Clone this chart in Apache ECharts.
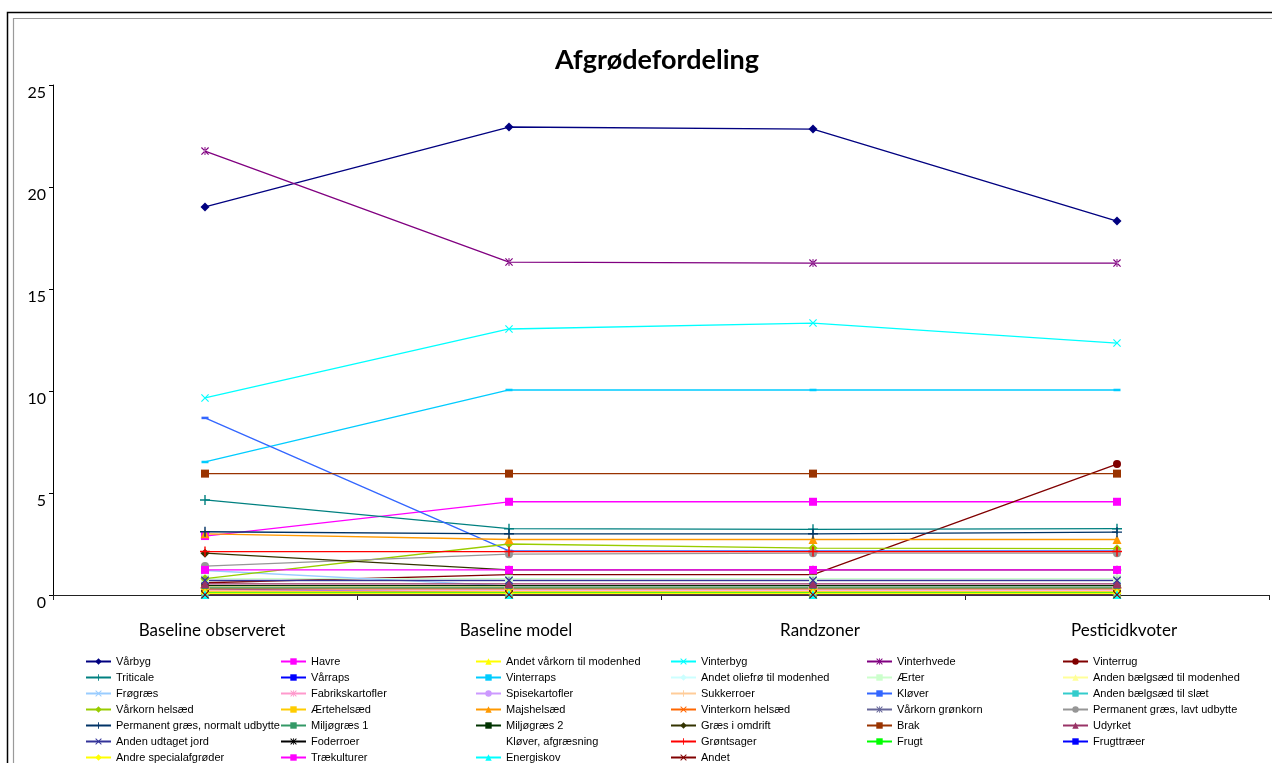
<!DOCTYPE html>
<html>
<head>
<meta charset="utf-8">
<title>Afgrødefordeling</title>
<script src="https://cdn.jsdelivr.net/npm/echarts@6/dist/echarts.min.js"></script>
<style>
  html, body { margin: 0; padding: 0; background: #fff; }
  #chart { width: 1272px; height: 763px; }
</style>
</head>
<body>
<div id="chart"></div>
<script>
// Scenarios on the category axis
const categories = ['Baseline observeret', 'Baseline model', 'Randzoner', 'Pesticidkvoter'];

// Crop names, in legend order (row by row, six per row)
const cropNames = [
  'Vårbyg', 'Havre', 'Andet vårkorn til modenhed', 'Vinterbyg', 'Vinterhvede', 'Vinterrug',
  'Triticale', 'Vårraps', 'Vinterraps', 'Andet oliefrø til modenhed', 'Ærter', 'Anden bælgsæd til modenhed',
  'Frøgræs', 'Fabrikskartofler', 'Spisekartofler', 'Sukkerroer', 'Kløver', 'Anden bælgsæd til slæt',
  'Vårkorn helsæd', 'Ærtehelsæd', 'Majshelsæd', 'Vinterkorn helsæd', 'Vårkorn grønkorn', 'Permanent græs, lavt udbytte',
  'Permanent græs, normalt udbytte', 'Miljøgræs 1', 'Miljøgræs 2', 'Græs i omdrift', 'Brak', 'Udyrket',
  'Anden udtaget jord', 'Foderroer', 'Kløver, afgræsning', 'Grøntsager', 'Frugt', 'Frugttræer',
  'Andre specialafgrøder', 'Trækulturer', 'Energiskov', 'Andet'
];

// Share of area (%) per crop, one value per scenario
const cropValues = [
  [19.02, 22.94, 22.84, 18.33],  // Vårbyg
  [2.89, 4.57, 4.57, 4.57],      // Havre
  [0.25, 0.12, 0.12, 0.12],      // Andet vårkorn til modenhed
  [9.66, 13.04, 13.33, 12.35],   // Vinterbyg
  [21.76, 16.32, 16.27, 16.27],  // Vinterhvede
  [0.6, 1.0, 1.0, 6.42],         // Vinterrug
  [4.66, 3.25, 3.22, 3.25],      // Triticale
  [0.3, 0.1, 0.1, 0.1],          // Vårraps
  [6.52, 10.05, 10.05, 10.05],   // Vinterraps
  [0.05, 0.05, 0.05, 0.05],      // Andet oliefrø til modenhed
  [0.8, 0.8, 0.8, 0.8],          // Ærter
  [0.4, 0.4, 0.4, 0.4],          // Anden bælgsæd til modenhed
  [1.2, 0.45, 0.45, 0.45],       // Frøgræs
  [0.2, 0.2, 0.2, 0.2],          // Fabrikskartofler
  [0.3, 0.3, 0.3, 0.3],          // Spisekartofler
  [0.35, 0.35, 0.35, 0.35],      // Sukkerroer
  [8.68, 2.16, 2.16, 2.16],      // Kløver
  [0.1, 0.1, 0.1, 0.1],          // Anden bælgsæd til slæt
  [0.8, 2.5, 2.3, 2.27],         // Vårkorn helsæd
  [0.15, 0.15, 0.15, 0.15],      // Ærtehelsæd
  [3.0, 2.72, 2.72, 2.72],       // Majshelsæd
  [0.3, 0.3, 0.3, 0.3],          // Vinterkorn helsæd
  [0.7, 0.7, 0.7, 0.7],          // Vårkorn grønkorn
  [1.42, 2.0, 2.05, 2.05],       // Permanent græs, lavt udbytte
  [3.1, 3.0, 3.0, 3.08],         // Permanent græs, normalt udbytte
  [0.35, 0.35, 0.35, 0.35],      // Miljøgræs 1
  [0.46, 0.46, 0.46, 0.46],      // Miljøgræs 2
  [2.05, 1.23, 1.23, 1.23],      // Græs i omdrift
  [5.95, 5.95, 5.95, 5.95],      // Brak
  [0.55, 0.55, 0.55, 0.55],      // Udyrket
  [0.72, 0.72, 0.72, 0.72],      // Anden udtaget jord
  [0.05, 0.05, 0.05, 0.05],      // Foderroer
  [0.2, 0.2, 0.2, 0.2],          // Kløver, afgræsning
  [2.13, 2.13, 2.13, 2.13],      // Grøntsager
  [0.1, 0.1, 0.1, 0.1],          // Frugt
  [0.02, 0.02, 0.02, 0.02],      // Frugttræer
  [0.08, 0.08, 0.08, 0.08],      // Andre specialafgrøder
  [1.23, 1.23, 1.23, 1.23],      // Trækulturer
  [0.02, 0.02, 0.02, 0.02],      // Energiskov
  [0.01, 0.01, 0.01, 0.01]       // Andet
];

// Value axis range and tick step
const yMin = 0, yMax = 25, yStep = 5;

// Line colours and marker kinds, aligned with cropNames
const cropColors = [
  '#000080', '#FF00FF', '#FFFF00', '#00FFFF', '#800080', '#800000',
  '#008080', '#0000FF', '#00CCFF', '#CCFFFF', '#CCFFCC', '#FFFF99',
  '#99CCFF', '#FF99CC', '#CC99FF', '#FFCC99', '#3366FF', '#33CCCC',
  '#99CC00', '#FFCC00', '#FF9900', '#FF6600', '#666699', '#969696',
  '#003366', '#339966', '#003300', '#333300', '#993300', '#993366',
  '#333399', '#000000', '#FFFFFF', '#FF0000', '#00FF00', '#0000FF',
  '#FFFF00', '#FF00FF', '#00FFFF', '#800000'
];
const cropMarkers = [
  'diamond', 'square', 'triangle', 'cross', 'star', 'circle',
  'plus', 'dash', 'dash', 'diamond', 'square', 'triangle',
  'cross', 'star', 'circle', 'plus', 'dash', 'dash',
  'diamond', 'square', 'triangle', 'cross', 'star', 'circle',
  'plus', 'dash', 'dash', 'diamond', 'square', 'triangle',
  'cross', 'star', 'none', 'plus', 'dash', 'dash',
  'diamond', 'square', 'triangle', 'cross'
];

const PLUS = 'path://M4.3,0H5.7V4.3H10V5.7H5.7V10H4.3V5.7H0V4.3H4.3Z';
const CROSS = 'path://M0,1L1,0L5,4L9,0L10,1L6,5L10,9L9,10L5,6L1,10L0,9L4,5Z';
const STAR = 'path://M0,1L1,0L5,4L9,0L10,1L6,5L10,9L9,10L5,6L1,10L0,9L4,5Z M4.4,0V10H5.6V0Z';

const markerStyle = {
  diamond:  { symbol: 'diamond',  symbolSize: 9 },
  square:   { symbol: 'rect',     symbolSize: 8 },
  triangle: { symbol: 'triangle', symbolSize: 9 },
  circle:   { symbol: 'circle',   symbolSize: 8 },
  plus:     { symbol: PLUS,       symbolSize: 10 },
  cross:    { symbol: CROSS,      symbolSize: 8 },
  star:     { symbol: STAR,       symbolSize: 8 },
  dash:     { symbol: 'rect',     symbolSize: [7, 2.5] },
  none:     { symbol: 'none',     symbolSize: 0 }
};

const series = cropNames.map((name, i) => {
  const m = markerStyle[cropMarkers[i]];
  const hidden = cropMarkers[i] === 'none';
  return {
    name: name,
    type: 'line',
    data: cropValues[i],
    symbol: m.symbol,
    symbolSize: m.symbolSize,
    showSymbol: !hidden,
    animation: false,
    color: cropColors[i],
    lineStyle: { width: 1.3, color: cropColors[i], opacity: hidden ? 0 : 1 },
    itemStyle: { color: cropColors[i], opacity: hidden ? 0 : 1 }
  };
});

// Six legend columns, filled row by row
const legendCols = [85, 280, 475, 670, 866, 1062];
const legends = legendCols.map((x, c) => ({
  data: cropNames.filter((_, i) => i % 6 === c),
  orient: 'vertical',
  left: x,
  top: 655,
  height: 140,
  padding: 0,
  itemGap: 3,
  itemWidth: 25,
  itemHeight: 8,
  selectedMode: false,
  textStyle: { fontFamily: 'Liberation Sans', fontSize: 11, lineHeight: 13, color: '#000' }
}));

const chart = echarts.init(document.getElementById('chart'), null, { renderer: 'canvas' });
chart.setOption({
  backgroundColor: '#fff',
  animation: false,
  title: {
    text: 'Afgrødefordeling',
    left: 652,
    top: 42,
    textAlign: 'center',
    textStyle: { fontFamily: 'Lato', fontWeight: 'bold', fontSize: 27, color: '#000' }
  },
  graphic: [
    { type: 'rect', shape: { x: 7.5, y: 12.5, width: 1290, height: 800 },
      style: { fill: 'none', stroke: '#000', lineWidth: 1.5 }, silent: true },
    { type: 'rect', shape: { x: 13.5, y: 18.5, width: 1290, height: 800 },
      style: { fill: 'none', stroke: '#9a9a9a', lineWidth: 1.2 }, silent: true }
  ],
  legend: legends,
  grid: { left: 53, right: 3, top: 85, bottom: 168, containLabel: false },
  xAxis: {
    type: 'category',
    data: categories,
    boundaryGap: true,
    axisLine: { lineStyle: { color: '#222', width: 1 } },
    axisTick: { show: true, length: 5, inside: false, lineStyle: { color: '#222' } },
    axisLabel: {
      margin: 27,
      padding: [0, 0, 0, 14],
      fontFamily: 'Lato',
      fontSize: 17,
      color: '#000'
    },
    splitLine: { show: false }
  },
  yAxis: {
    type: 'value',
    min: yMin,
    max: yMax,
    interval: yStep,
    axisLine: { show: true, lineStyle: { color: '#000', width: 1 } },
    axisTick: { show: true, length: 4, lineStyle: { color: '#000' } },
    axisLabel: {
      margin: 7,
      verticalAlign: 'top',
      fontFamily: 'Lato',
      fontSize: 16,
      color: '#000'
    },
    splitLine: { show: false }
  },
  series: series
});
</script>
</body>
</html>
